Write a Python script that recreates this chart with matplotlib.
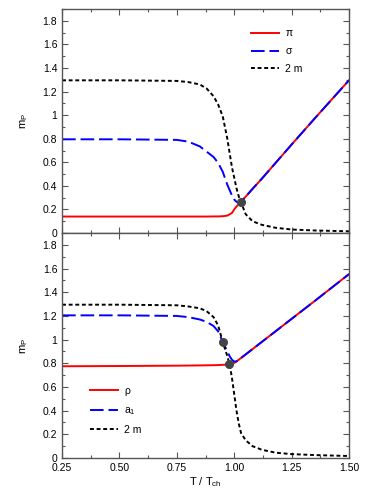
import matplotlib
matplotlib.use('Agg')
import matplotlib.pyplot as plt
from matplotlib.ticker import MultipleLocator, FormatStrFormatter, FuncFormatter

# painel superior: pi, sigma, 2m
T_top = [0.25, 0.50, 0.75, 0.80, 0.85, 0.88, 0.91, 0.93, 0.95, 0.97, 0.99, 1.00,
         1.01, 1.02, 1.03, 1.05, 1.08, 1.12, 1.18, 1.25, 1.35, 1.50]
m_pi = [0.14, 0.14, 0.14, 0.14, 0.14, 0.14, 0.141, 0.141, 0.143, 0.148, 0.17, 0.20,
        0.225, 0.245, 0.265, 0.309, 0.375, 0.46, 0.594, 0.75, 0.97, 1.295]
m_sigma = [0.795, 0.795, 0.79, 0.775, 0.735, 0.69, 0.645, 0.595, 0.52, 0.41, 0.32, 0.285,
           0.265, 0.258, 0.265, 0.309, 0.375, 0.46, 0.594, 0.75, 0.97, 1.295]
m_2q_top = [1.295, 1.295, 1.29, 1.28, 1.26, 1.225, 1.16, 1.09, 0.99, 0.80, 0.56, 0.47,
            0.38, 0.31, 0.26, 0.16, 0.10, 0.07, 0.045, 0.03, 0.022, 0.015]
dot_top = ([1.03], [0.265])

# painel inferior: rho, a1, 2m
T_bot = [0.25, 0.50, 0.75, 0.80, 0.85, 0.88, 0.91, 0.93, 0.95, 0.97, 0.98, 0.99,
         1.00, 1.01, 1.02, 1.03, 1.05, 1.08, 1.12, 1.18, 1.25, 1.35, 1.50]
m_rho = [0.775, 0.777, 0.78, 0.781, 0.782, 0.783, 0.784, 0.785, 0.787, 0.789, 0.79,
         0.794, 0.803, 0.816, 0.83, 0.845, 0.875, 0.92, 0.98, 1.07, 1.175, 1.325, 1.553]
m_a1 = [1.205, 1.205, 1.20, 1.19, 1.17, 1.15, 1.115, 1.07, 0.982, 0.90, 0.86, 0.83,
        0.815, 0.816, 0.83, 0.845, 0.875, 0.92, 0.98, 1.07, 1.175, 1.325, 1.553]
m_2q_bot = [1.295, 1.295, 1.29, 1.28, 1.265, 1.24, 1.19, 1.12, 0.98, 0.86, 0.79,
            0.68, 0.54, 0.40, 0.29, 0.21, 0.15, 0.10, 0.07, 0.045, 0.033, 0.025, 0.017]
dot_bot = ([0.95, 0.979], [0.982, 0.79])

plt.rcParams['font.family'] = ['Liberation Sans', 'DejaVu Sans']
plt.rcParams['mathtext.default'] = 'regular'

fig = plt.figure(figsize=(3.74, 4.98), dpi=100)
ax1 = fig.add_axes([0.166, 0.532, 0.767, 0.45])
ax2 = fig.add_axes([0.166, 0.0803, 0.767, 0.4517])

def estilo(ax):
    ax.set_xlim(0.25, 1.5)
    ax.set_ylim(0, 1.9)
    ax.xaxis.set_major_locator(MultipleLocator(0.25))
    ax.xaxis.set_minor_locator(MultipleLocator(0.125))
    ax.yaxis.set_major_locator(MultipleLocator(0.2))
    ax.yaxis.set_minor_locator(MultipleLocator(0.1))
    ax.yaxis.set_major_formatter(FuncFormatter(lambda v, p: ('%g' % round(v, 1))))
    ax.tick_params(which='both', direction='in', top=True, right=True,
                   labelsize=7.5, color='#555555', width=0.8)
    ax.tick_params(which='major', length=4)
    ax.tick_params(which='minor', length=2.5)
    for s in ax.spines.values():
        s.set_color('#555555')
        s.set_linewidth(1.0)
    ax.set_ylabel('$m_P$', fontsize=8, labelpad=9)

estilo(ax1)
ax1.plot(T_top, m_pi, color='#ff0000', lw=1.4, label=r'$\pi$')
ax1.plot(T_top, m_sigma, color='#0000ff', lw=1.4, dashes=(7, 2.5), label=r'$\sigma$')
ax1.plot(T_top, m_2q_top, color='black', lw=1.4, dashes=(2, 1.4), label='2 m')
ax1.plot(*dot_top, 'o', color='#444444', ms=5.5, zorder=5)
ax1.tick_params(labelbottom=False)
ax1.legend(loc='upper right', bbox_to_anchor=(0.87, 0.955), frameon=False, fontsize=7.5,
           handlelength=2.7, handletextpad=0.6, labelspacing=0.75)

estilo(ax2)
ax2.plot(T_bot, m_rho, color='#ff0000', lw=1.4, label=r'$\rho$')
ax2.plot(T_bot, m_a1, color='#0000ff', lw=1.4, dashes=(7, 2.5), label='$a_1$')
ax2.plot(T_bot, m_2q_bot, color='black', lw=1.4, dashes=(2, 1.4), label='2 m')
ax2.plot(*dot_bot, 'o', color='#444444', ms=5.5, zorder=5)
ax2.xaxis.set_major_formatter(FormatStrFormatter('%.2f'))
ax2.set_xlabel('T / $T_{ch}$', fontsize=8, labelpad=2)
ax2.legend(loc='lower left', bbox_to_anchor=(0.065, 0.06), frameon=False, fontsize=7.5,
           handlelength=2.7, handletextpad=0.6, labelspacing=0.75)

fig.savefig('out.png', dpi=100)
